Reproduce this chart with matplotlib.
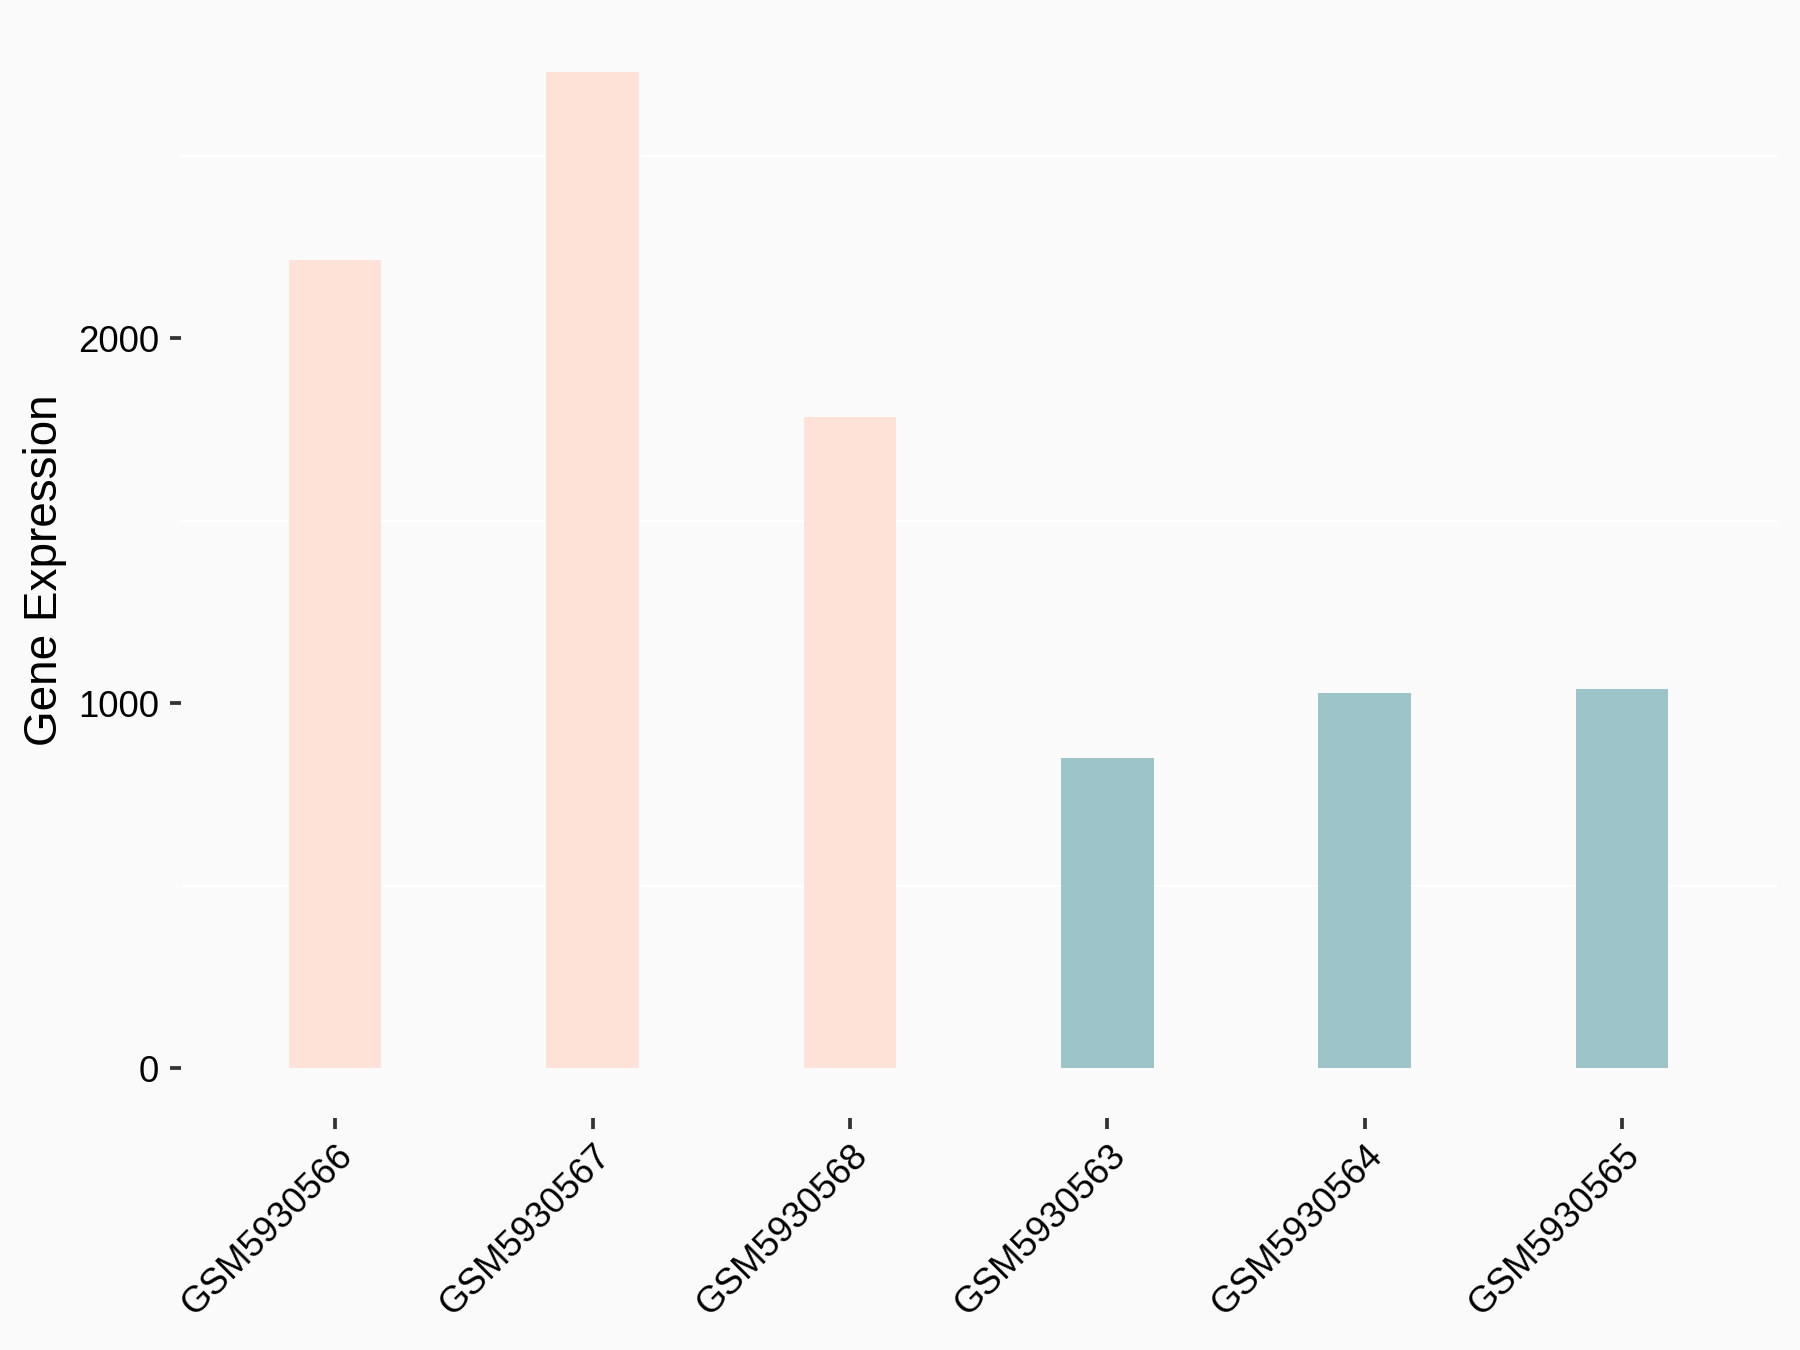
import matplotlib
matplotlib.use('Agg')
import matplotlib.pyplot as plt
from matplotlib.ticker import FixedLocator

plt.rcParams['font.family'] = ['Liberation Sans', 'DejaVu Sans']

samples = ['GSM5930566', 'GSM5930567', 'GSM5930568',
           'GSM5930563', 'GSM5930564', 'GSM5930565']
expression = [2214, 2730, 1783, 849, 1027, 1038]
groups = ['A', 'A', 'A', 'B', 'B', 'B']
group_colors = {'A': '#FEE1D7', 'B': '#9DC4C8'}

bg = '#FAFAFA'

fig = plt.figure(figsize=(6, 4.5), dpi=300, facecolor=bg)
ax = fig.add_axes([0.1004, 0.1718, 0.8866, 0.8119], facecolor=bg)

x = list(range(1, len(samples) + 1))
ax.bar(x, expression, width=0.36, color=[group_colors[g] for g in groups],
       zorder=2)

ymax = max(expression)
ax.set_xlim(0.4, len(samples) + 0.6)
ax.set_ylim(-0.05 * ymax, 1.05 * ymax)

ax.set_xticks(x)
ax.set_xticklabels(samples, rotation=45, ha='right', va='top',
                   rotation_mode='anchor', fontsize=8.8, color='black')
ax.set_yticks([0, 1000, 2000])
ax.set_yticklabels(['0', '1000', '2000'], fontsize=8.8, color='black')
ax.yaxis.set_minor_locator(FixedLocator([500, 1500, 2500]))
ax.tick_params(axis='y', which='minor', length=0)
ax.tick_params(axis='both', which='major', length=2.75, width=0.9,
               color='#333333')
ax.tick_params(axis='x', pad=2)
ax.tick_params(axis='y', pad=2.5)

ax.grid(True, which='minor', axis='y', color='white', linewidth=0.5, zorder=1)
ax.set_axisbelow(True)

for s in ax.spines.values():
    s.set_visible(False)

ax.set_ylabel('Gene Expression', fontsize=11, color='black', labelpad=2.5)

fig.savefig('out.png', dpi=300, facecolor=bg)
